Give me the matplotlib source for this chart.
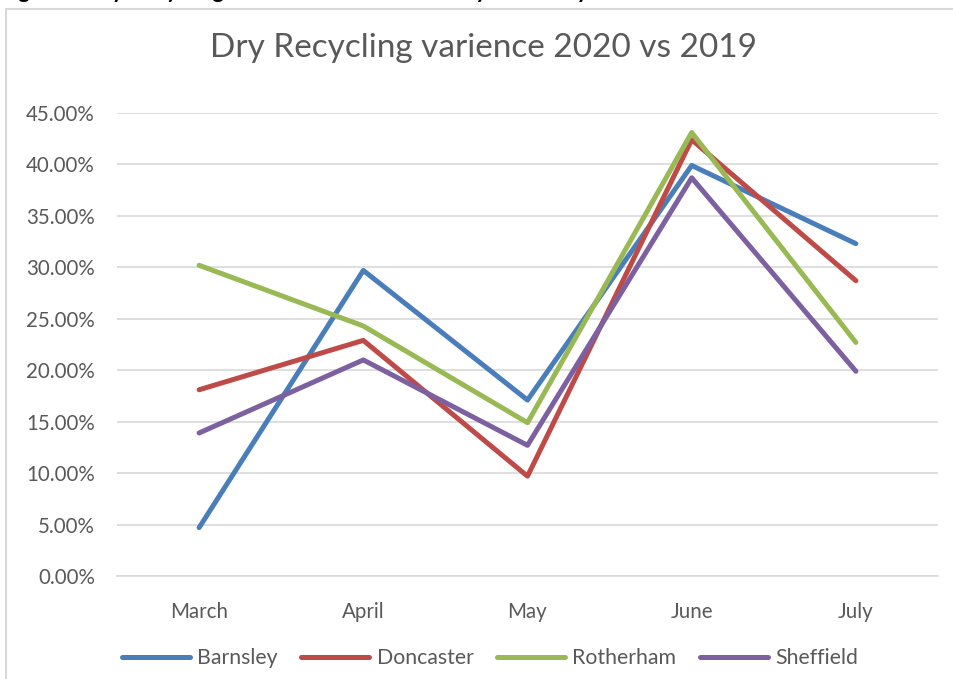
import matplotlib.pyplot as plt
from matplotlib.patches import Rectangle
from matplotlib.ticker import PercentFormatter

plt.rcParams['font.family'] = ['Lato', 'DejaVu Sans']

months = ["March", "April", "May", "June", "July"]
barnsley = [4.7, 29.7, 17.1, 39.9, 32.3]
doncaster = [18.1, 22.9, 9.7, 42.4, 28.7]
rotherham = [30.2, 24.3, 14.9, 43.1, 22.7]
sheffield = [13.9, 21.0, 12.7, 38.7, 19.9]

series = [("Barnsley", barnsley, "#4A7EBB"),
          ("Doncaster", doncaster, "#BE4B48"),
          ("Rotherham", rotherham, "#98B954"),
          ("Sheffield", sheffield, "#7D60A0")]

txt = "#595959"

fig = plt.figure(figsize=(9.54, 6.79), dpi=100)
fig.patches.append(Rectangle((6 / 954, -0.1), 1.1, 1 - 9 / 679 + 0.1,
                             transform=fig.transFigure, fill=False,
                             edgecolor="#D9D9D9", linewidth=1.5))

# caption of the page, cut off at the top of the picture (only descenders show)
fig.text(0.0, 1.0 + 2.5 / 679, "Figure 1 Dry Recycling Variance 2020 vs 2019 by Authority",
         fontsize=16, fontweight="bold", color="black", va="baseline", ha="left")

ax = fig.add_axes([117 / 954, 1 - 576 / 679, (938 - 117) / 954, (576 - 113) / 679])
x = range(len(months))
for name, vals, col in series:
    ax.plot(x, vals, color=col, linewidth=3.6, label=name, solid_capstyle="round")

ax.set_xlim(-0.5, 4.5)
ax.set_ylim(0, 45)
ax.set_yticks(range(0, 46, 5))
ax.yaxis.set_major_formatter(PercentFormatter(decimals=2))
ax.set_xticks(list(x))
ax.set_xticklabels(months)
ax.grid(axis="y", color="#D9D9D9", linewidth=1.2)
ax.set_axisbelow(True)
for s in ["top", "right", "left"]:
    ax.spines[s].set_visible(False)
ax.spines["bottom"].set_color("#D9D9D9")
ax.spines["bottom"].set_linewidth(1.2)
ax.tick_params(axis="both", length=0, colors=txt, labelsize=14.8)
ax.tick_params(axis="y", pad=16)
ax.tick_params(axis="x", pad=19)

fig.text(484 / 954, 1 - 48 / 679, "Dry Recycling varience 2020 vs 2019",
         fontsize=24, color=txt, ha="center", va="center")

fig.legend(loc="center", bbox_to_anchor=(490 / 954, 1 - 658 / 679), ncol=4,
           frameon=False, fontsize=15.3, labelcolor=txt, handlelength=3.2,
           handletextpad=0.35, columnspacing=1.1)

fig.savefig("out.png", dpi=100)
